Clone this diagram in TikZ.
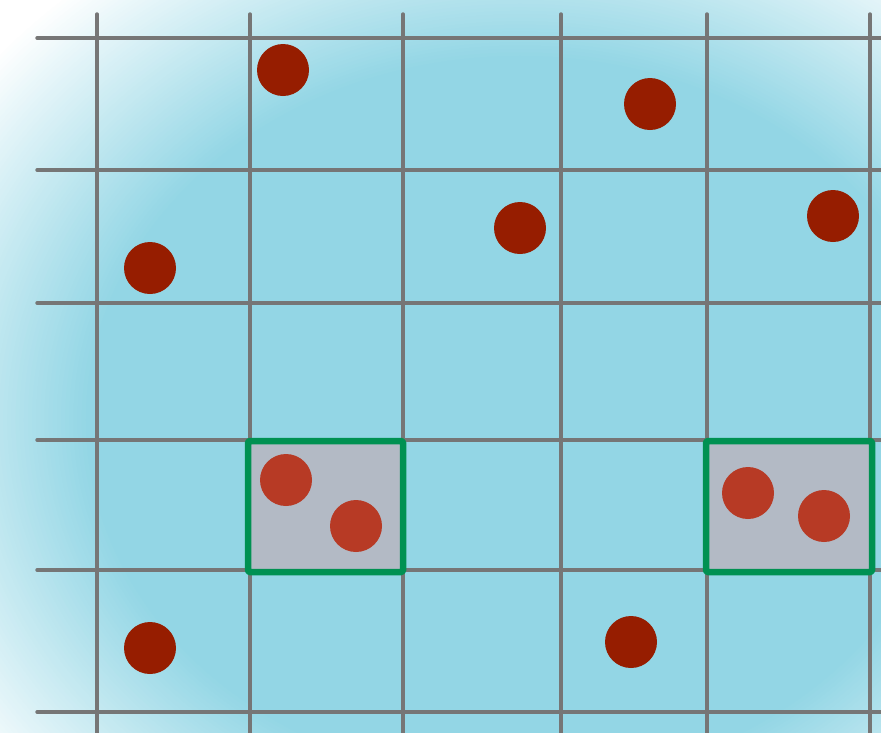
\documentclass[tikz,border=0pt]{standalone}
\usepackage{tikz}
\begin{document}
\begin{tikzpicture}[x=1pt, y=-1pt, line cap=round, line join=round]
\definecolor{gdbg}{HTML}{93D6E5}
\definecolor{gdgrid}{HTML}{767676}
\definecolor{gddot}{HTML}{961D00}
\definecolor{gdhit}{HTML}{B73A25}
\definecolor{gdcell}{HTML}{B3BAC5}
\definecolor{gdedge}{HTML}{009152}
\useasboundingbox (0,0) rectangle (881,732);
% ---- faded background (stacked ellipses) ----
\begin{scope}
  \clip (0,0) rectangle (881,732);
  \fill[white] (0,0) rectangle (881,732);
  \foreach \k in {0,...,60} {
    \pgfmathsetmacro\f{1.1-0.4*\k/60}
    \pgfmathsetmacro\c{100*\k/60}
    \fill[gdbg!\c!white] (520,420) ellipse ({620*\f} and {520*\f});
  }
\end{scope}
% ---- grid ----
\foreach \x in {97,250,403,561,707,870} {
  \draw[gdgrid, line width=3.4pt] (\x,14) -- (\x,740);
}
\foreach \y in {38,170,303,440,570,712} {
  \draw[gdgrid, line width=3.4pt] (37,\y) -- (890,\y);
}
% ---- highlighted cells ----
\foreach \xa/\xb in {248/403, 706/872} {
  \fill[gdcell] (\xa,441) rectangle (\xb,572);
  \draw[gdedge, line width=6.5pt, rounded corners=1.5pt] (\xa,441) rectangle (\xb,572);
}
% ---- points ----
\foreach \px/\py in {283/70, 650/104, 150/268, 520/228, 833/216, 150/648, 631/642} {
  \fill[gddot] (\px,\py) circle (26);
}
\foreach \px/\py in {286/480, 356/526, 748/493, 824/516} {
  \fill[gdhit] (\px,\py) circle (26);
}
\end{tikzpicture}
\end{document}
